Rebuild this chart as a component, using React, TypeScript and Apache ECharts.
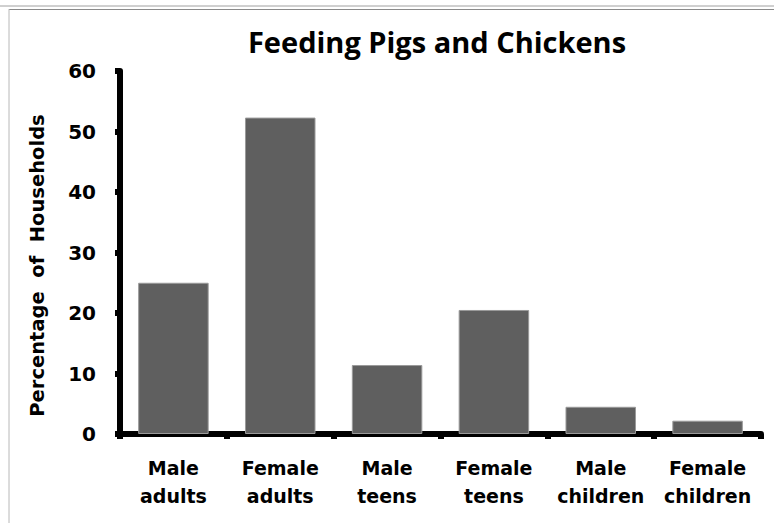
import React, { useEffect, useRef } from "react";
import * as echarts from "echarts";

const categories = ["Male adults", "Female adults", "Male teens", "Female teens", "Male children", "Female children"];
const values = [25.0, 52.3, 11.4, 20.5, 4.5, 2.2];
const yTicks = { min: 0, max: 60, interval: 10 };
const titleText = "Feeding Pigs and Chickens";
const yAxisName = "Percentage  of  Households";

const TITLE_FONT = "'Open Sans', 'DejaVu Sans', sans-serif";
const FONT = "'DejaVu Sans', 'Open Sans', sans-serif";

export default function App() {
  const ref = useRef<HTMLDivElement>(null);
  useEffect(() => {
    if (!ref.current) return;
    const chart = echarts.init(ref.current, null, { renderer: "svg" });
    chart.setOption({
      animation: false,
      backgroundColor: "#ffffff",
      title: {
        text: titleText,
        left: 432,
        top: 22,
        textAlign: "center",
        textStyle: { fontFamily: TITLE_FONT, fontWeight: "bold", fontSize: 29, color: "#000" },
      },
      grid: { left: 120, right: 13, top: 71, bottom: 89, containLabel: false },
      xAxis: {
        type: "category",
        data: categories,
        axisLine: { lineStyle: { color: "#000", width: 6 } },
        axisTick: { show: true, length: 5, lineStyle: { color: "#000", width: 6 } },
        axisLabel: {
          interval: 0,
          margin: 20,
          fontFamily: FONT,
          fontWeight: "bold",
          fontSize: 19,
          lineHeight: 28,
          color: "#000",
          formatter: (v: string) => v.replace(" ", "\n"),
        },
      },
      yAxis: {
        type: "value",
        min: yTicks.min,
        max: yTicks.max,
        interval: yTicks.interval,
        name: yAxisName,
        nameLocation: "middle",
        nameRotate: 90,
        nameGap: 73,
        nameTextStyle: {
          fontFamily: FONT,
          fontWeight: "bold",
          fontSize: 19.5,
          color: "#000",
          padding: [0, 26, 0, 0],
        },
        splitLine: { show: false },
        axisLine: { show: true, lineStyle: { color: "#000", width: 6 } },
        axisTick: { show: true, length: 5, lineStyle: { color: "#000", width: 6 } },
        axisLabel: { margin: 24, fontFamily: FONT, fontWeight: "bold", fontSize: 20, color: "#000" },
      },
      series: [
        {
          type: "bar",
          data: values,
          barWidth: "66%",
          itemStyle: { color: "#5f5f5f", borderColor: "#9a9a9a", borderWidth: 1 },
        },
      ],
      graphic: [
        { type: "line", shape: { x1: 0, y1: 6, x2: 774, y2: 6 }, style: { stroke: "#a0a0a0", lineWidth: 1 } },
        { type: "line", shape: { x1: 9, y1: 9.5, x2: 774, y2: 9.5 }, style: { stroke: "#8a8a8a", lineWidth: 1 } },
        { type: "line", shape: { x1: 9, y1: 9, x2: 9, y2: 523 }, style: { stroke: "#b8b8b8", lineWidth: 1 } },
      ],
    });
    return () => chart.dispose();
  }, []);
  return <div ref={ref} style={{ position: "fixed", left: 0, top: 0, width: 774, height: 523 }} />;
}
